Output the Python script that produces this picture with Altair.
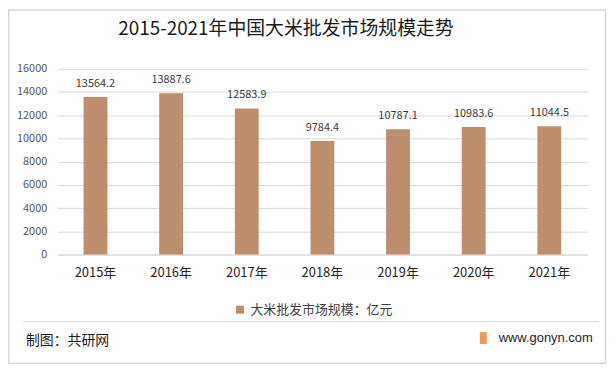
import altair as alt
import pandas as pd

years = ["2015年", "2016年", "2017年", "2018年", "2019年", "2020年", "2021年"]
values = [13564.2, 13887.6, 12583.9, 9784.4, 10787.1, 10983.6, 11044.5]
series_name = "大米批发市场规模：亿元"
title_text = "2015-2021年中国大米批发市场规模走势"
source_text = "制图：共研网"
site_text = "www.gonyn.com"
y_ticks = [0, 2000, 4000, 6000, 8000, 10000, 12000, 14000, 16000]

FONT = "Noto Sans CJK SC"
BAR = "#BD8E6B"
GRID = "#d9d9d9"

df = pd.DataFrame({"year": years, "value": values, "series": [series_name] * len(years)})
one = pd.DataFrame({"k": [0]})

x_enc = alt.X("year:N", sort=years, title=None,
              scale=alt.Scale(paddingInner=0.5, paddingOuter=0.25),
              axis=alt.Axis(labelAngle=0, ticks=False, labelPadding=12, labelFontSize=13,
                            labelColor="#262626", labelFont=FONT, domainColor=GRID, grid=False))
y_enc = alt.Y("value:Q", title=None,
              scale=alt.Scale(domain=[0, 16000], nice=False),
              axis=alt.Axis(values=y_ticks, tickCount=9, format="d", labelOverlap=False,
                            ticks=False, domain=False, labelPadding=11, labelFlush=False,
                            labelFontSize=11, labelColor="#595959", labelFont=FONT,
                            gridColor=GRID, gridWidth=1))

bars = alt.Chart(df).mark_bar(size=24).encode(
    x=x_enc, y=y_enc,
    color=alt.Color("series:N", scale=alt.Scale(range=[BAR]),
                    legend=alt.Legend(orient="none", legendX=177, legendY=236, title=None,
                                      symbolType="square", symbolSize=64, symbolStrokeWidth=0,
                                      labelFontSize=13, labelFont=FONT, labelColor="#404040",
                                      labelOffset=4))
)

labels = alt.Chart(df).mark_text(baseline="middle", dy=-13.5, fontSize=11, font=FONT,
                                 color="#404040").encode(
    x=x_enc, y=y_enc,
    text=alt.Text("value:Q", format=".1f"))

title = alt.Chart(one).mark_text(align="left", baseline="middle", fontSize=19, font=FONT,
                                 color="#1a1a1a").encode(
    x=alt.value(61), y=alt.value(-40), text=alt.value(title_text))

sep = alt.Chart(one).mark_rule(color=GRID, strokeWidth=1).encode(
    x=alt.value(-35), x2=alt.value(545), y=alt.value(254.5))

src = alt.Chart(one).mark_text(align="left", baseline="middle", fontSize=14, font=FONT,
                               color="#1a1a1a").encode(
    x=alt.value(-32), y=alt.value(274), text=alt.value(source_text))

site = alt.Chart(one).mark_text(align="left", baseline="middle", fontSize=13,
                                font="Liberation Sans", color="#262626").encode(
    x=alt.value(444), y=alt.value(271), text=alt.value(site_text))

logo = alt.Chart(one).mark_rect(color="#F29A55", cornerRadius=1).encode(
    x=alt.value(425), x2=alt.value(432), y=alt.value(265), y2=alt.value(277))

border = alt.Chart(one).mark_rect(fill=None, stroke=GRID, strokeWidth=1.5).encode(
    x=alt.value(-49.25), x2=alt.value(551.5), y=alt.value(-59.25), y2=alt.value(296.5))

chart = alt.layer(border, bars, labels, title, sep, src, site, logo).properties(
    width=533, height=187,
    padding={"left": 50, "top": 60, "right": 21, "bottom": 113},
    autosize=alt.AutoSizeParams(type="none"),
    background="white",
).configure_view(stroke=None)

chart.save("out.html", embed_options={"renderer": "svg", "actions": False})
